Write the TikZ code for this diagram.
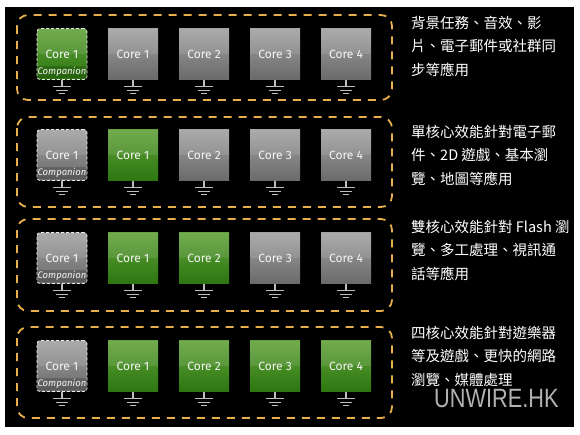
\documentclass[tikz,border=0pt]{standalone}
\usepackage{fontspec}
\newfontfamily\cjk{Noto Sans CJK TC}
\newfontfamily\corefont{Fira Sans}
\newfontfamily\markfont{Liberation Sans}
\definecolor{panelline}{HTML}{E8B04C}
\definecolor{offtop}{HTML}{A2A2A2}
\definecolor{offbot}{HTML}{6A6A6A}
\definecolor{ontop}{HTML}{62A23A}
\definecolor{onbot}{HTML}{2C7610}
\definecolor{gndline}{HTML}{BEBEBE}
\definecolor{marktext}{HTML}{B2B2B2}

\begin{document}
\begin{tikzpicture}[x=1pt,y=-1pt,
    core/.style={minimum width=50pt, minimum height=51pt, inner sep=0pt,
      text=white!92!gray, font=\corefont\fontsize{12}{14}\selectfont,
      path picture={\fill[white,opacity=.10] (path picture bounding box.north west)
        rectangle (path picture bounding box.east);}},
    coreoff/.style={core, top color=offtop, bottom color=offbot},
    coreon/.style={core, top color=ontop, bottom color=onbot},
    companion/.style={draw=white!85!gray, line width=.8pt, dash pattern=on 3pt off 2pt,
      rounded corners=3pt,
      label={[anchor=south, yshift=2pt, inner sep=1pt, text=white!92!gray,
        fill=black, fill opacity=.18, text opacity=1,
        font=\corefont\itshape\fontsize{9.5}{10}\selectfont]south:Companion}},
    rowbox/.style={draw=panelline, line width=1.8pt, dash pattern=on 8pt off 7pt,
      rounded corners=11pt},
    gnd/.style={draw=gndline, line width=1.1pt},
    desc/.style={anchor=north west, inner sep=0pt, align=left, text=white,
      font=\cjk\fontsize{14.5}{23.5}\selectfont}]
  \useasboundingbox (0,0) rectangle (580,434);
  \fill[white] (0,0) rectangle (580,434);
  \fill[black] (5,7) rectangle (574,427);
  % dashed panels round each row
  \foreach \r/\t/\b in {1/15/100, 2/117/207, 3/219/311, 4/327/418}{
    \draw[rowbox] (17,\t) rectangle (392,\b);
  }
  % cores and their grounds
  \foreach \r/\yc/\sa/\sb/\sc/\sd/\se in {
      1/54/coreon/coreoff/coreoff/coreoff/coreoff,
      2/155/coreoff/coreon/coreoff/coreoff/coreoff,
      3/258/coreoff/coreon/coreon/coreoff/coreoff,
      4/366/coreoff/coreon/coreon/coreon/coreon}{
    \node[\sa, companion] (c\r0) at (62,\yc) {Core 1};
    \foreach \i/\s/\n in {1/\sb/1, 2/\sc/2, 3/\sd/3, 4/\se/4}{
      \node[\s] (c\r\i) at (62+71*\i,\yc) {Core \n};
    }
    \foreach \i in {0,...,4}{
      \draw[gnd] (c\r\i.south) -- ++(0,7)
        ++(-9,0) -- ++(18,0)
        ++(-3,3.5) -- ++(-12,0)
        ++(3,3.5) -- ++(6,0);
    }
  }
  % descriptions
  \node[desc] (t1) at (411,16) {背景任務、音效、影\\片、電子郵件或社群同\\步等應用};
  \node[desc] (t2) at (411,125) {單核心效能針對電子郵\\件、2D 遊戲、基本瀏\\覽、地圖等應用};
  \node[desc] (t3) at (411,220) {雙核心效能針對 Flash 瀏\\覽、多工處理、視訊通\\話等應用};
  \node[desc] (t4) at (411,326) {四核心效能針對遊樂器\\等及遊戲、更快的網路\\瀏覽、媒體處理};
  \node[anchor=base west, inner sep=0pt, text=marktext, xscale=.82,
    font=\markfont\fontsize{26.5}{28}\selectfont] (mark) at (434,407) {UNWIRE.HK};
\end{tikzpicture}
\end{document}
